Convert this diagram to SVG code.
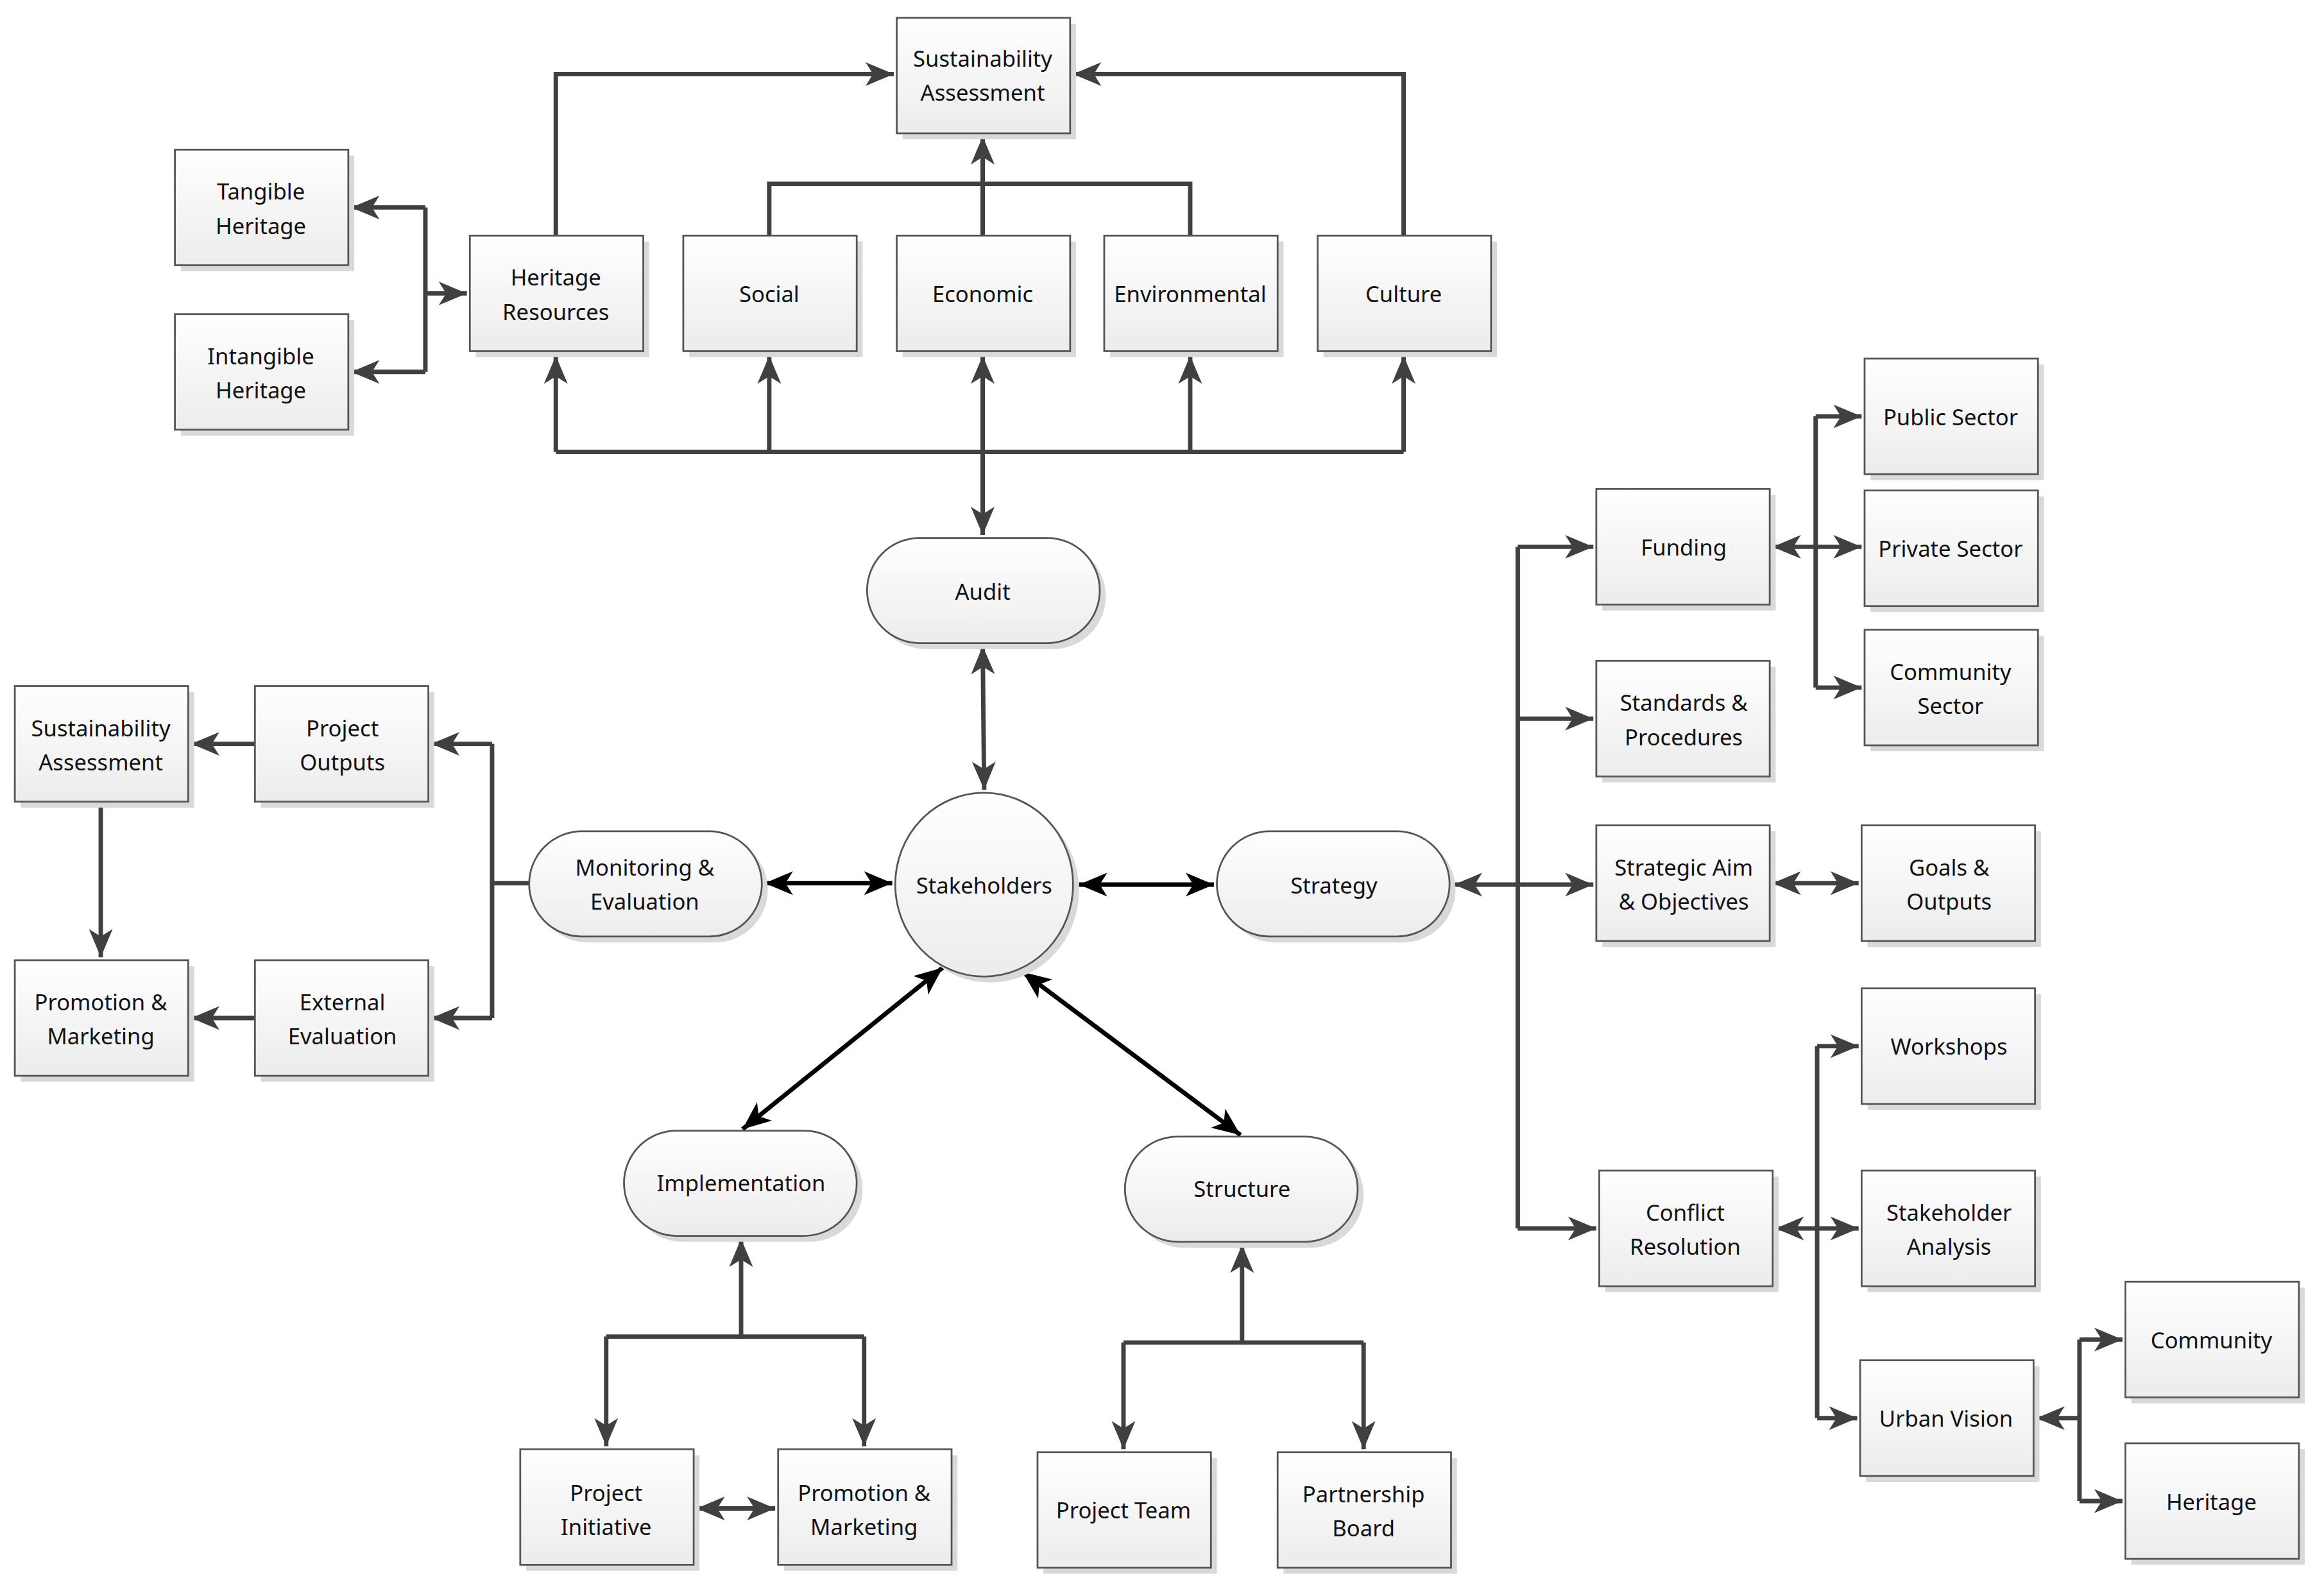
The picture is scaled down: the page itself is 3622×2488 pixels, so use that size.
<svg xmlns="http://www.w3.org/2000/svg" width="3622" height="2488" viewBox="0 0 3622 2488">
<style>
.sh{fill:#d9d9d9;stroke:none}
.bx{fill:url(#g);stroke:#555;stroke-width:1.2}
.t{font-family:"Noto Sans","Liberation Sans",sans-serif;font-size:15px;fill:#111;text-anchor:middle;dominant-baseline:central}
.c{fill:none;stroke:#404040;stroke-width:3}
.k{fill:none;stroke:#000;stroke-width:3}
.a{marker-end:url(#ag)}
.b{marker-start:url(#ag);marker-end:url(#ag)}
.ka{marker-start:url(#ak);marker-end:url(#ak)}
</style>
<defs>
<linearGradient id="g" x1="0" y1="0" x2="0" y2="1"><stop offset="0" stop-color="#ffffff"/><stop offset="1" stop-color="#ececec"/></linearGradient>
<marker id="ag" markerUnits="userSpaceOnUse" viewBox="-20 -9 22 18" refX="0" refY="0" markerWidth="22" markerHeight="18" orient="auto-start-reverse"><path d="M0,0 L-19,-8 L-14,0 L-19,8 Z" fill="#404040"/></marker>
<marker id="ak" markerUnits="userSpaceOnUse" viewBox="-20 -9 22 18" refX="0" refY="0" markerWidth="22" markerHeight="18" orient="auto-start-reverse"><path d="M0,0 L-19,-8 L-14,0 L-19,8 Z" fill="#000"/></marker>
</defs>
<rect width="3622" height="2488" fill="#fff"/>
<g transform="scale(2.31)">
<g id="connectors">
<path class="c a" d="M375,159 V50 H603"/>
<path class="c a" d="M947,159 V50 H724"/>
<path class="c" d="M519,159 V124 H803 V159"/>
<path class="c a" d="M663,159 V92"/>
<path class="c" d="M375,305 H947"/>
<path class="c a" d="M375,305 V240"/>
<path class="c a" d="M519,305 V240"/>
<path class="c a" d="M803,305 V240"/>
<path class="c a" d="M947,305 V240"/>
<path class="c b" d="M663,240 V361"/>
<path class="c a" d="M287,198 H315"/>
<path class="c" d="M287,140 V251"/>
<path class="c a" d="M287,140 H237"/>
<path class="c a" d="M287,251 H237"/>
<path class="c b" d="M663,436 L664,533"/>
<path class="k ka" d="M516,596 H602"/>
<path class="k ka" d="M728,597 H819"/>
<path class="k ka" d="M636,653 L501,762"/>
<path class="k ka" d="M690,656 L837,766"/>
<path class="c" d="M357,596 H332 M332,502 V687"/>
<path class="c a" d="M332,502 H291"/>
<path class="c a" d="M332,687 H291"/>
<path class="c a" d="M172,502 H129"/>
<path class="c a" d="M172,687 H129"/>
<path class="c a" d="M68,542 V646"/>
<path class="c a" d="M500,902 V836"/>
<path class="c" d="M409,902 H583"/>
<path class="c a" d="M409,902 V976"/>
<path class="c a" d="M583,902 V976"/>
<path class="c b" d="M470,1018 H523"/>
<path class="c a" d="M838,906 V840"/>
<path class="c" d="M758,906 H920"/>
<path class="c a" d="M758,906 V978"/>
<path class="c a" d="M920,906 V978"/>
<path class="c b" d="M981,597 H1075"/>
<path class="c" d="M1024,369 V829"/>
<path class="c a" d="M1024,369 H1075"/>
<path class="c a" d="M1024,485 H1075"/>
<path class="c a" d="M1024,829 H1077"/>
<path class="c b" d="M1196,369 H1256"/>
<path class="c" d="M1225,281 V464"/>
<path class="c a" d="M1225,281 H1256"/>
<path class="c a" d="M1225,464 H1256"/>
<path class="c b" d="M1196,596 H1254"/>
<path class="c b" d="M1198,829 H1254"/>
<path class="c" d="M1226,706 V957"/>
<path class="c a" d="M1226,706 H1254"/>
<path class="c a" d="M1226,957 H1253"/>
<path class="c a" d="M1403,957 H1374"/>
<path class="c" d="M1403,904 V1013"/>
<path class="c a" d="M1403,904 H1432"/>
<path class="c a" d="M1403,1013 H1432"/>
</g>
<g id="n-sa-top"><rect class="sh" x="609" y="16" width="117" height="78"/><rect class="bx" x="605" y="12" width="117" height="78"/><text class="t" x="663" y="39">Sustainability</text><text class="t" x="663" y="62">Assessment</text></g>
<g id="n-tangible"><rect class="sh" x="122" y="105" width="117" height="78"/><rect class="bx" x="118" y="101" width="117" height="78"/><text class="t" x="176" y="129">Tangible</text><text class="t" x="176" y="152">Heritage</text></g>
<g id="n-intangible"><rect class="sh" x="122" y="216" width="117" height="78"/><rect class="bx" x="118" y="212" width="117" height="78"/><text class="t" x="176" y="240">Intangible</text><text class="t" x="176" y="263">Heritage</text></g>
<g id="n-heritage-res"><rect class="sh" x="321" y="163" width="117" height="78"/><rect class="bx" x="317" y="159" width="117" height="78"/><text class="t" x="375" y="187">Heritage</text><text class="t" x="375" y="210">Resources</text></g>
<g id="n-social"><rect class="sh" x="465" y="163" width="117" height="78"/><rect class="bx" x="461" y="159" width="117" height="78"/><text class="t" x="519" y="198">Social</text></g>
<g id="n-economic"><rect class="sh" x="609" y="163" width="117" height="78"/><rect class="bx" x="605" y="159" width="117" height="78"/><text class="t" x="663" y="198">Economic</text></g>
<g id="n-environmental"><rect class="sh" x="749" y="163" width="117" height="78"/><rect class="bx" x="745" y="159" width="117" height="78"/><text class="t" x="803" y="198">Environmental</text></g>
<g id="n-culture"><rect class="sh" x="893" y="163" width="117" height="78"/><rect class="bx" x="889" y="159" width="117" height="78"/><text class="t" x="947" y="198">Culture</text></g>
<g id="n-audit"><rect class="sh" x="589" y="367" width="157" height="71" rx="35.5"/><rect class="bx" x="585" y="363" width="157" height="71" rx="35.5"/><text class="t" x="663" y="399">Audit</text></g>
<g id="n-stakeholders"><ellipse class="sh" cx="668" cy="601" rx="60" ry="62"/><ellipse class="bx" cx="664" cy="597" rx="60" ry="62"/><text class="t" x="664" y="597">Stakeholders</text></g>
<g id="n-monitoring"><rect class="sh" x="361" y="565" width="157" height="71" rx="35.5"/><rect class="bx" x="357" y="561" width="157" height="71" rx="35.5"/><text class="t" x="435" y="585">Monitoring &amp;</text><text class="t" x="435" y="608">Evaluation</text></g>
<g id="n-strategy"><rect class="sh" x="825" y="565" width="157" height="71" rx="35.5"/><rect class="bx" x="821" y="561" width="157" height="71" rx="35.5"/><text class="t" x="900" y="597">Strategy</text></g>
<g id="n-implementation"><rect class="sh" x="425" y="767" width="157" height="71" rx="35.5"/><rect class="bx" x="421" y="763" width="157" height="71" rx="35.5"/><text class="t" x="500" y="798">Implementation</text></g>
<g id="n-structure"><rect class="sh" x="763" y="771" width="157" height="71" rx="35.5"/><rect class="bx" x="759" y="767" width="157" height="71" rx="35.5"/><text class="t" x="838" y="802">Structure</text></g>
<g id="n-sa-left"><rect class="sh" x="14" y="467" width="117" height="78"/><rect class="bx" x="10" y="463" width="117" height="78"/><text class="t" x="68" y="491">Sustainability</text><text class="t" x="68" y="514">Assessment</text></g>
<g id="n-project-outputs"><rect class="sh" x="176" y="467" width="117" height="78"/><rect class="bx" x="172" y="463" width="117" height="78"/><text class="t" x="231" y="491">Project</text><text class="t" x="231" y="514">Outputs</text></g>
<g id="n-promo-left"><rect class="sh" x="14" y="652" width="117" height="78"/><rect class="bx" x="10" y="648" width="117" height="78"/><text class="t" x="68" y="676">Promotion &amp;</text><text class="t" x="68" y="699">Marketing</text></g>
<g id="n-external"><rect class="sh" x="176" y="652" width="117" height="78"/><rect class="bx" x="172" y="648" width="117" height="78"/><text class="t" x="231" y="676">External</text><text class="t" x="231" y="699">Evaluation</text></g>
<g id="n-project-initiative"><rect class="sh" x="355" y="982" width="117" height="78"/><rect class="bx" x="351" y="978" width="117" height="78"/><text class="t" x="409" y="1007">Project</text><text class="t" x="409" y="1030">Initiative</text></g>
<g id="n-promo-bottom"><rect class="sh" x="529" y="982" width="117" height="78"/><rect class="bx" x="525" y="978" width="117" height="78"/><text class="t" x="583" y="1007">Promotion &amp;</text><text class="t" x="583" y="1030">Marketing</text></g>
<g id="n-project-team"><rect class="sh" x="704" y="984" width="117" height="78"/><rect class="bx" x="700" y="980" width="117" height="78"/><text class="t" x="758" y="1019">Project Team</text></g>
<g id="n-partnership"><rect class="sh" x="866" y="984" width="117" height="78"/><rect class="bx" x="862" y="980" width="117" height="78"/><text class="t" x="920" y="1008">Partnership</text><text class="t" x="920" y="1031">Board</text></g>
<g id="n-funding"><rect class="sh" x="1081" y="334" width="117" height="78"/><rect class="bx" x="1077" y="330" width="117" height="78"/><text class="t" x="1136" y="369">Funding</text></g>
<g id="n-standards"><rect class="sh" x="1081" y="450" width="117" height="78"/><rect class="bx" x="1077" y="446" width="117" height="78"/><text class="t" x="1136" y="474">Standards &amp;</text><text class="t" x="1136" y="497">Procedures</text></g>
<g id="n-strategic-aim"><rect class="sh" x="1081" y="561" width="117" height="78"/><rect class="bx" x="1077" y="557" width="117" height="78"/><text class="t" x="1136" y="585">Strategic Aim</text><text class="t" x="1136" y="608">&amp; Objectives</text></g>
<g id="n-conflict"><rect class="sh" x="1083" y="794" width="117" height="78"/><rect class="bx" x="1079" y="790" width="117" height="78"/><text class="t" x="1137" y="818">Conflict</text><text class="t" x="1137" y="841">Resolution</text></g>
<g id="n-public"><rect class="sh" x="1262" y="246" width="117" height="78"/><rect class="bx" x="1258" y="242" width="117" height="78"/><text class="t" x="1316" y="281">Public Sector</text></g>
<g id="n-private"><rect class="sh" x="1262" y="335" width="117" height="78"/><rect class="bx" x="1258" y="331" width="117" height="78"/><text class="t" x="1316" y="370">Private Sector</text></g>
<g id="n-community-sector"><rect class="sh" x="1262" y="429" width="117" height="78"/><rect class="bx" x="1258" y="425" width="117" height="78"/><text class="t" x="1316" y="453">Community</text><text class="t" x="1316" y="476">Sector</text></g>
<g id="n-goals"><rect class="sh" x="1260" y="561" width="117" height="78"/><rect class="bx" x="1256" y="557" width="117" height="78"/><text class="t" x="1315" y="585">Goals &amp;</text><text class="t" x="1315" y="608">Outputs</text></g>
<g id="n-workshops"><rect class="sh" x="1260" y="671" width="117" height="78"/><rect class="bx" x="1256" y="667" width="117" height="78"/><text class="t" x="1315" y="706">Workshops</text></g>
<g id="n-stakeholder-analysis"><rect class="sh" x="1260" y="794" width="117" height="78"/><rect class="bx" x="1256" y="790" width="117" height="78"/><text class="t" x="1315" y="818">Stakeholder</text><text class="t" x="1315" y="841">Analysis</text></g>
<g id="n-urban-vision"><rect class="sh" x="1259" y="922" width="117" height="78"/><rect class="bx" x="1255" y="918" width="117" height="78"/><text class="t" x="1313" y="957">Urban Vision</text></g>
<g id="n-community"><rect class="sh" x="1438" y="869" width="117" height="78"/><rect class="bx" x="1434" y="865" width="117" height="78"/><text class="t" x="1492" y="904">Community</text></g>
<g id="n-heritage"><rect class="sh" x="1438" y="978" width="117" height="78"/><rect class="bx" x="1434" y="974" width="117" height="78"/><text class="t" x="1492" y="1013">Heritage</text></g>
</g>
</svg>
